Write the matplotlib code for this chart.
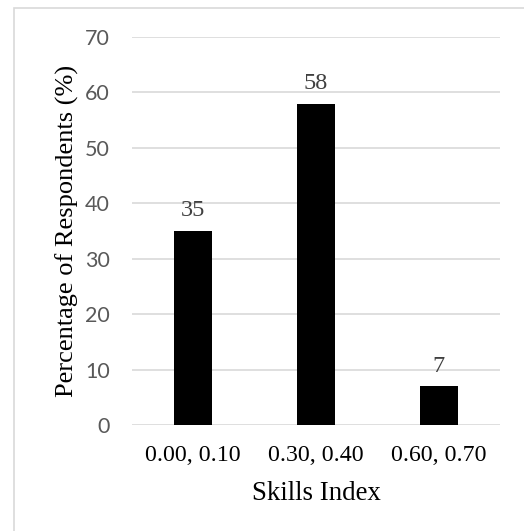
import matplotlib.pyplot as plt
from matplotlib.patches import Rectangle

categories = ["0.00, 0.10", "0.30, 0.40", "0.60, 0.70"]
percentages = [35, 58, 7]
y_ticks = [0, 10, 20, 30, 40, 50, 60, 70]

serif = ["Liberation Serif", "DejaVu Serif"]
sans = ["Lato", "DejaVu Sans"]

fig = plt.figure(figsize=(5.24, 5.31), dpi=100)
ax = fig.add_axes([0.2519, 0.1996, 0.7021, 0.7307])

x = range(len(categories))
ax.bar(x, percentages, width=0.31, color="black", zorder=3)

for xi, v in zip(x, percentages):
    ax.annotate(str(v), (xi, v), xytext=(0, 14.5), textcoords="offset points",
                ha="center", va="center", fontsize=17.5, family=serif,
                color="#404040", zorder=4)

ax.set_xlim(-0.5, 2.5)
ax.set_ylim(0, 70)
ax.set_yticks(y_ticks)
ax.set_xticks(list(x))
ax.set_xticklabels(categories, family=serif, fontsize=17.2, color="black")
ax.set_yticklabels([str(t) for t in y_ticks], family=sans, fontsize=15.5,
                   color="#595959")
ax.tick_params(axis="both", length=0)
ax.tick_params(axis="x", pad=14.5)
ax.tick_params(axis="y", pad=16)

ax.grid(axis="y", color="#d9d9d9", linewidth=1.2, zorder=0)
for s in ax.spines.values():
    s.set_visible(False)

ax.set_xlabel("Skills Index", family=serif, fontsize=19.4, labelpad=11)
ax.set_ylabel("Percentage of Respondents (%)", family=serif, fontsize=19,
              labelpad=4)

# thin chart-area frame
fig.patches.append(Rectangle((14 / 524, -0.1), 1.2, 1.1 - 8 / 531,
                             transform=fig.transFigure, fill=False,
                             edgecolor="#d9d9d9", linewidth=1.2))

fig.savefig("out.png", dpi=100)
